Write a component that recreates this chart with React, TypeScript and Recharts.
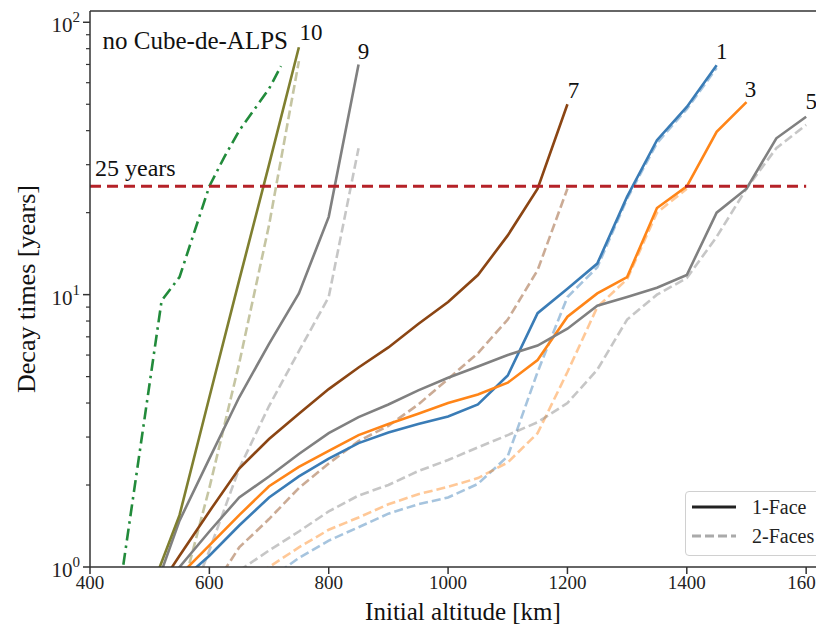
import { LineChart, Line, XAxis, YAxis, ReferenceLine, Legend, LabelList } from "recharts";

const FONT = "'Liberation Serif', 'Times New Roman', serif";

// altitude ticks (km) and decay time ticks (years)
const altTicks = [400, 600, 800, 1000, 1200, 1400, 1600];
const yearTicks = [1, 2, 3, 4, 5, 6, 7, 8, 9, 10, 20, 30, 40, 50, 60, 70, 80, 90, 100];
const limitYears = 25;

// no Cube-de-ALPS
const noCubeAlt = [450, 520, 550, 600, 625, 650, 700, 720];
const noCubeYears = [0.83, 9.5, 11.6, 25, 32, 40, 57, 69];

// 10
const alt10 = [500, 550, 600, 650, 700, 750];
const face1_10 = [0.8, 1.55, 4.2, 11.3, 30, 81];
const alt10b = [550, 600, 650, 700, 750];
const face2_10 = [0.75, 1.95, 5.6, 18, 72];

// 9
const alt9 = [500, 550, 600, 650, 700, 750, 800, 850];
const face1_9 = [0.73, 1.48, 2.5, 4.2, 6.6, 10.1, 19.3, 70];
const alt9b = [550, 600, 650, 700, 750, 800, 850];
const face2_9 = [0.6, 1.15, 2.3, 3.9, 6.2, 9.8, 34.5];

// 7
const alt7 = [500, 550, 600, 650, 700, 750, 800, 850, 900, 950, 1000, 1050, 1100, 1150, 1200];
const face1_7 = [0.75, 1.1, 1.6, 2.3, 2.95, 3.65, 4.5, 5.4, 6.4, 7.8, 9.4, 11.8, 16.5, 24.5, 50];
const alt7b = [600, 650, 700, 750, 800, 850, 900, 950, 1000, 1050, 1100, 1150, 1200];
const face2_7 = [0.8, 1.18, 1.5, 1.95, 2.4, 2.9, 3.3, 3.95, 4.9, 6.1, 8.1, 12.3, 24.5];

// 5
const alt5 = [500, 550, 600, 650, 700, 750, 800, 850, 900, 950, 1000, 1050, 1100, 1150, 1200, 1250, 1300, 1350, 1400, 1450, 1500, 1550, 1600];
const face1_5 = [0.72, 1.0, 1.35, 1.8, 2.15, 2.6, 3.1, 3.55, 3.95, 4.45, 4.95, 5.45, 6.0, 6.5, 7.5, 9.1, 9.8, 10.6, 11.8, 20, 24.5, 37.5, 45];
const alt5b = [650, 700, 750, 800, 850, 900, 950, 1000, 1050, 1100, 1150, 1200, 1250, 1300, 1350, 1400, 1450, 1500, 1550, 1600];
const face2_5 = [0.97, 1.15, 1.35, 1.6, 1.83, 2.0, 2.25, 2.47, 2.75, 3.05, 3.4, 4.0, 5.3, 8.1, 10.0, 11.5, 16.3, 24.5, 34.5, 42];

// 3
const alt3 = [550, 600, 650, 700, 750, 800, 850, 900, 950, 1000, 1050, 1100, 1150, 1200, 1250, 1300, 1350, 1400, 1450, 1500];
const face1_3 = [0.93, 1.2, 1.55, 1.98, 2.33, 2.67, 3.05, 3.35, 3.65, 4.0, 4.3, 4.75, 5.75, 8.3, 10.1, 11.6, 20.8, 25, 39.6, 50.9];
const alt3b = [650, 700, 750, 800, 850, 900, 950, 1000, 1050, 1100, 1150, 1200, 1250, 1300, 1350, 1400];
const face2_3 = [0.85, 1.0, 1.18, 1.37, 1.52, 1.7, 1.85, 1.97, 2.12, 2.42, 3.1, 5.2, 9.0, 11.4, 20, 24.5];

// 1
const alt1 = [550, 600, 650, 700, 750, 800, 850, 900, 950, 1000, 1050, 1100, 1150, 1200, 1250, 1300, 1350, 1400, 1450];
const face1_1 = [0.88, 1.1, 1.42, 1.8, 2.15, 2.5, 2.85, 3.12, 3.35, 3.57, 3.95, 5.05, 8.55, 10.5, 13.0, 22.9, 36.9, 48.9, 69.5];
const alt1b = [700, 750, 800, 850, 900, 950, 1000, 1050, 1100, 1150, 1200, 1250, 1300, 1350, 1400, 1450];
const face2_1 = [0.9, 1.08, 1.25, 1.4, 1.57, 1.7, 1.8, 2.02, 2.55, 5.2, 9.8, 12.6, 22.5, 36, 48, 68];

const zip = (xs: number[], ys: number[]) => xs.map((x, i) => ({ alt: x, years: ys[i] }));

type Series = {
  key: string;
  data: { alt: number; years: number }[];
  color: string;
  faded?: boolean;
  label?: string;
  dx?: number;
  dy?: number;
};

const GRAY = "#808080";

const series: Series[] = [
  { key: "f2-1", data: zip(alt1b, face2_1), color: "#3a7cb6", faded: true },
  { key: "f2-3", data: zip(alt3b, face2_3), color: "#ff8518", faded: true },
  { key: "f2-5", data: zip(alt5b, face2_5), color: GRAY, faded: true },
  { key: "f2-7", data: zip(alt7b, face2_7), color: "#8b4513", faded: true },
  { key: "f2-9", data: zip(alt9b, face2_9), color: GRAY, faded: true },
  { key: "f2-10", data: zip(alt10b, face2_10), color: "#7f7f30", faded: true },
  { key: "f1-1", data: zip(alt1, face1_1), color: "#3a7cb6", label: "1", dx: 5, dy: -6 },
  { key: "f1-3", data: zip(alt3, face1_3), color: "#ff8518", label: "3", dx: 4, dy: -5 },
  { key: "f1-5", data: zip(alt5, face1_5), color: GRAY, label: "5", dx: 5, dy: -8 },
  { key: "f1-7", data: zip(alt7, face1_7), color: "#8b4513", label: "7", dx: 6, dy: -6 },
  { key: "f1-9", data: zip(alt9, face1_9), color: GRAY, label: "9", dx: 5, dy: -5 },
  { key: "f1-10", data: zip(alt10, face1_10), color: "#7f7f30", label: "10", dx: 12, dy: -7 },
];

const endLabel = (text: string, n: number, dx: number, dy: number, anchor = "middle", size = 23) => (props: any) => {
  if (props.index !== n - 1) return null;
  return (
    <text x={props.x + dx} y={props.y + dy} textAnchor={anchor} fontFamily={FONT} fontSize={size} fill="#111">
      {text}
    </text>
  );
};

const LogTick = (props: any) => {
  const { x, y, payload } = props;
  const exp = Math.log10(payload.value);
  const major = Math.abs(exp - Math.round(exp)) < 1e-9;
  const right = x + 7;
  return (
    <g>
      <line x1={right - (major ? 7 : 4)} x2={right} y1={y} y2={y} stroke="#333" strokeWidth={major ? 1.5 : 1.2} />
      {major && (
        <text x={right - 10} y={y + 10} textAnchor="end" fontFamily={FONT} fontSize={21} fill="#222">
          10
          <tspan dy={-10} fontSize={15}>
            {Math.round(exp)}
          </tspan>
        </text>
      )}
    </g>
  );
};

const LegendBox = () => (
  <div
    style={{
      width: 138,
      height: 65,
      boxSizing: "border-box",
      border: "1.5px solid #d0d0d0",
      borderRadius: 4,
      background: "rgba(255,255,255,0.85)",
    }}
  >
    <svg width={136} height={63} style={{ display: "block" }}>
      <line x1={6} x2={50} y1={15} y2={15} stroke="#222" strokeWidth={3} />
      <text x={66} y={22} fontFamily={FONT} fontSize={20} fill="#222">1-Face</text>
      <line x1={6} x2={50} y1={44} y2={44} stroke="#aaa" strokeWidth={3} strokeDasharray="9 4" />
      <text x={66} y={51} fontFamily={FONT} fontSize={20} fill="#222">2-Faces</text>
    </svg>
  </div>
);

export default function App() {
  const noCube = zip(noCubeAlt, noCubeYears);
  return (
    <div style={{ position: "relative", margin: "-8px 0 0 -8px", width: 824, height: 632, overflow: "hidden", background: "#fff" }}>
      <LineChart width={850} height={632} margin={{ top: 11, right: 14, bottom: 0, left: 0 }}>
        <XAxis
          type="number"
          dataKey="alt"
          domain={[400, 1650]}
          ticks={altTicks}
          interval={0}
          allowDataOverflow
          height={65}
          stroke="#333"
          strokeWidth={1.5}
          tickSize={7}
          tickMargin={2}
          tick={{ fontSize: 19, fill: "#222", fontFamily: FONT }}
          label={() => (
            <text x={463} y={620} textAnchor="middle" fontFamily={FONT} fontSize={25} fill="#111">
              Initial altitude [km]
            </text>
          )}
        />
        <YAxis
          type="number"
          scale="log"
          domain={[1, 110]}
          ticks={yearTicks}
          interval={0}
          allowDataOverflow
          width={90}
          stroke="#333"
          strokeWidth={1.5}
          tickLine={false}
          tickSize={7}
          tickMargin={0}
          tick={<LogTick />}
          label={() => (
            <text x={35} y={289} transform="rotate(-90, 35, 289)" textAnchor="middle" fontFamily={FONT} fontSize={26} fill="#111">
              Decay times [years]
            </text>
          )}
        />
        <ReferenceLine y={110} stroke="#333" strokeWidth={1.5} />
        <ReferenceLine x={1650} stroke="#333" strokeWidth={1.5} />
        {series.map((s) => (
          <Line
            key={s.key}
            data={s.data}
            dataKey="years"
            type="linear"
            stroke={s.color}
            strokeOpacity={s.faded ? 0.45 : 1}
            strokeWidth={2.6}
            strokeDasharray={s.faded ? "9 4" : undefined}
            dot={false}
            activeDot={false}
            isAnimationActive={false}
          >
            {s.label && <LabelList dataKey="years" content={endLabel(s.label, s.data.length, s.dx ?? 0, s.dy ?? 0)} />}
          </Line>
        ))}
        <Line
          data={noCube}
          dataKey="years"
          type="linear"
          stroke="#228b3b"
          strokeWidth={2.6}
          strokeDasharray="12 5 2.5 5"
          dot={false}
          activeDot={false}
          isAnimationActive={false}
        >
          <LabelList dataKey="years" content={endLabel("no Cube-de-ALPS", noCube.length, 7, -17, "end", 25)} />
        </Line>
        <ReferenceLine
          segment={[
            { x: 400, y: limitYears },
            { x: 1600, y: limitYears },
          ]}
          stroke="#b52228"
          strokeWidth={3}
          strokeDasharray="11 6"
          label={() => (
            <text x={95} y={176} fontFamily={FONT} fontSize={24} fill="#111">
              25 years
            </text>
          )}
        />
        <Legend
          layout="horizontal"
          verticalAlign="middle"
          align="center"
          content={<LegendBox />}
          wrapperStyle={{ left: 685, top: 491, width: 138, height: 65 }}
        />
      </LineChart>
    </div>
  );
}
